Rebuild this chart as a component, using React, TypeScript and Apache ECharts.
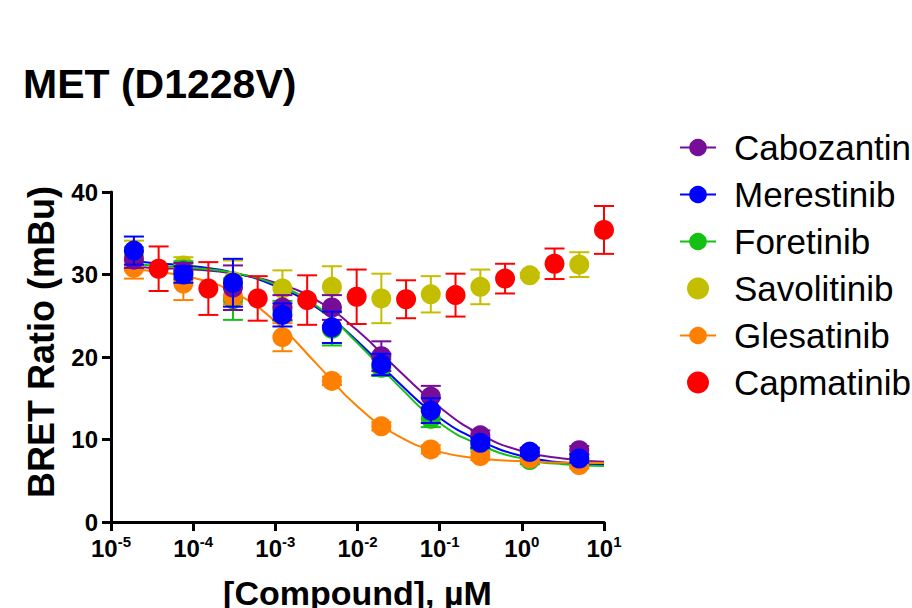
import React, { useEffect, useRef } from 'react';
import * as echarts from 'echarts';

const FONT = '"Liberation Sans", Arial, Helvetica, sans-serif';

// Concentrations (µM)
const CONC_MAIN = [1.9e-5, 7.6e-5, 3.05e-4, 1.22e-3, 4.88e-3, 0.0195, 0.078, 0.3125, 1.25, 5];
const CONC_CAPMATINIB = [3.8e-5, 1.53e-4, 6.1e-4, 2.44e-3, 9.77e-3, 0.039, 0.156, 0.625, 2.5, 10];
const CURVE_CONC = [1.9e-5, 3.16e-5, 1e-4, 3.16e-4, 1e-3, 3.16e-3, 1e-2, 3.16e-2, 0.1, 0.316, 1, 3.16, 10];

// Means and SD (mBu)
const CABO_MEAN = [31.8, 30.4, 28.4, 26.0, 26.0, 20.1, 15.2, 10.5, 8.5, 8.7];
const CABO_ERR = [1.0, 1.0, 2.7, 1.5, 1.5, 1.8, 1.3, 0.6, 0.4, 0.5];
const MERE_MEAN = [32.9, 30.0, 29.0, 25.1, 23.6, 19.1, 13.5, 9.6, 8.5, 7.7];
const MERE_ERR = [1.7, 1.0, 2.9, 1.4, 1.9, 1.3, 1.5, 0.6, 0.5, 0.5];
const FORE_MEAN = [32.0, 30.6, 27.0, 25.6, 23.4, 18.7, 12.5, 9.3, 7.5, 7.2];
const FORE_ERR = [1.3, 1.0, 2.5, 1.2, 2.0, 1.0, 1.0, 0.5, 0.5, 0.5];
const SAVO_MEAN = [32.3, 31.1, 29.2, 28.3, 28.5, 27.1, 27.6, 28.5, 29.9, 31.2];
const SAVO_ERR = [1.8, 1.0, 2.5, 2.2, 2.5, 3.0, 2.2, 2.1, 0.3, 1.5];
const GLES_MEAN = [30.8, 28.9, 27.4, 22.4, 17.1, 11.6, 8.8, 8.0, 7.7, 6.9];
const GLES_ERR = [1.3, 2.0, 1.0, 1.7, 0.5, 0.5, 0.5, 0.5, 0.4, 0.4];
const CAPM_MEAN = [30.7, 28.3, 27.1, 26.9, 27.3, 27.0, 27.5, 29.5, 31.3, 35.4];
const CAPM_ERR = [2.7, 3.2, 2.7, 3.0, 3.3, 2.3, 2.6, 1.8, 1.85, 2.9];

// Fitted curves at CURVE_CONC
const CABO_FIT = [31.0, 30.8, 30.6, 30.1, 29.0, 26.9, 23.2, 18.4, 13.9, 10.6, 8.6, 7.7, 7.3];
const MERE_FIT = [31.7, 31.4, 31.0, 30.2, 28.6, 26.0, 21.9, 16.9, 12.6, 9.8, 8.0, 7.2, 6.9];
const FORE_FIT = [31.3, 31.1, 30.8, 30.2, 28.8, 26.2, 21.7, 16.5, 12.0, 9.3, 7.7, 7.0, 6.8];
const GLES_FIT = [30.7, 30.4, 29.6, 27.8, 24.3, 19.2, 14.0, 10.4, 8.5, 7.7, 7.35, 7.2, 7.15];

const Y_TICKS = [0, 10, 20, 30, 40];

const COMPOUNDS = [
  { name: 'Cabozantinib', color: '#760D98', conc: CONC_MAIN, mean: CABO_MEAN, err: CABO_ERR, fit: CABO_FIT, layer: 4 },
  { name: 'Merestinib', color: '#0000FF', conc: CONC_MAIN, mean: MERE_MEAN, err: MERE_ERR, fit: MERE_FIT, layer: 5 },
  { name: 'Foretinib', color: '#14C014', conc: CONC_MAIN, mean: FORE_MEAN, err: FORE_ERR, fit: FORE_FIT, layer: 2 },
  { name: 'Savolitinib', color: '#C4BE00', conc: CONC_MAIN, mean: SAVO_MEAN, err: SAVO_ERR, fit: null, layer: 1 },
  { name: 'Glesatinib', color: '#FF8000', conc: CONC_MAIN, mean: GLES_MEAN, err: GLES_ERR, fit: GLES_FIT, layer: 3 },
  { name: 'Capmatinib', color: '#FF0000', conc: CONC_CAPMATINIB, mean: CAPM_MEAN, err: CAPM_ERR, fit: null, layer: 0 },
];

function buildOption() {
  const series: any[] = [];
  COMPOUNDS.forEach((c) => {
    if (c.fit) {
      series.push({
        type: 'line',
        name: c.name,
        data: CURVE_CONC.map((x, i) => [x, c.fit![i]]),
        smooth: true,
        showSymbol: false,
        symbol: 'circle',
        symbolSize: 20,
        color: c.color,
        lineStyle: { color: c.color, width: 2 },
        z: 2,
        silent: true,
      });
    }
  });
  COMPOUNDS.forEach((c) => {
    series.push({
      type: 'scatter',
      name: c.name,
      data: c.conc.map((x, i) => [x, c.mean[i]]),
      symbol: 'circle',
      symbolSize: 20,
      itemStyle: { color: c.color, opacity: 1 },
      z: 4 + 2 * c.layer,
    });
    series.push({
      type: 'custom',
      name: c.name,
      data: c.conc.map((x, i) => [x, c.mean[i], c.err[i]]),
      encode: { x: 0, y: 1 },
      z: 3 + 2 * c.layer,
      silent: true,
      renderItem: (params: any, api: any) => {
        const x = api.value(0);
        const y = api.value(1);
        const e = api.value(2);
        if (!(e > 0)) return null;
        const p0 = api.coord([x, y - e]);
        const p1 = api.coord([x, y + e]);
        const w = 10;
        const style = { stroke: c.color, lineWidth: 2, fill: 'none' };
        return {
          type: 'group',
          children: [
            { type: 'line', shape: { x1: p0[0], y1: p0[1], x2: p1[0], y2: p1[1] }, style },
            { type: 'line', shape: { x1: p0[0] - w, y1: p0[1], x2: p0[0] + w, y2: p0[1] }, style },
            { type: 'line', shape: { x1: p1[0] - w, y1: p1[1], x2: p1[0] + w, y2: p1[1] }, style },
          ],
        };
      },
    });
  });

  return {
    animation: false,
    backgroundColor: '#ffffff',
    textStyle: { fontFamily: FONT },
    title: {
      text: 'MET (D1228V)',
      left: 18,
      top: 58,
      textStyle: { fontFamily: FONT, fontSize: 41, fontWeight: 'bold', color: '#000' },
    },
    legend: {
      data: COMPOUNDS.map((c) => c.name),
      orient: 'vertical',
      left: 679,
      top: 130,
      padding: 0,
      itemWidth: 36,
      itemHeight: 22,
      itemGap: 12,
      selectedMode: false,
      textStyle: { fontFamily: FONT, fontSize: 35, color: '#000', lineHeight: 35, padding: [0, 0, 0, 13] },
    },
    grid: { left: 111, right: 308, top: 192, bottom: 86, containLabel: false, outerBoundsMode: 'none' },
    xAxis: {
      type: 'log',
      logBase: 10,
      min: 1e-5,
      max: 10,
      interval: 1,
      name: '[Compound], µM',
      nameLocation: 'middle',
      nameGap: 54,
      nameTextStyle: { fontFamily: FONT, fontSize: 34, fontWeight: 'bold', color: '#000' },
      axisLine: { lineStyle: { color: '#000', width: 3 } },
      axisTick: { show: true, inside: false, length: 9, lineStyle: { color: '#000', width: 3 } },
      minorTick: { show: false },
      splitLine: { show: false },
      axisLabel: {
        margin: 12,
        formatter: (v: number) => {
          const e = Math.round(Math.log10(v));
          return '{b|10}{s|' + String(e) + '}';
        },
        rich: {
          b: { fontFamily: FONT, fontSize: 24, fontWeight: 'bold', color: '#000', lineHeight: 28, verticalAlign: 'middle' },
          s: { fontFamily: FONT, fontSize: 15, fontWeight: 'bold', color: '#000', lineHeight: 20, verticalAlign: 'top' },
        },
      },
    },
    yAxis: {
      type: 'value',
      min: Y_TICKS[0],
      max: Y_TICKS[Y_TICKS.length - 1],
      interval: 10,
      name: 'BRET Ratio (mBu)',
      nameLocation: 'middle',
      nameRotate: 90,
      nameGap: 52,
      nameTextStyle: { fontFamily: FONT, fontSize: 36, fontWeight: 'bold', color: '#000', padding: [0, 0, 0, 30] },
      axisLine: { show: true, lineStyle: { color: '#000', width: 3 } },
      axisTick: { show: true, inside: false, length: 9, lineStyle: { color: '#000', width: 3 } },
      splitLine: { show: false },
      axisLabel: { margin: 13, fontFamily: FONT, fontSize: 24, fontWeight: 'bold', color: '#000' },
    },
    series,
  };
}

export default function App() {
  const ref = useRef<HTMLDivElement>(null);
  useEffect(() => {
    const chart = echarts.init(ref.current!, null, { renderer: 'svg' });
    chart.setOption(buildOption() as any);
    return () => chart.dispose();
  }, []);
  return <div ref={ref} style={{ width: 912, height: 608, position: 'absolute', left: 0, top: 0 }} />;
}
